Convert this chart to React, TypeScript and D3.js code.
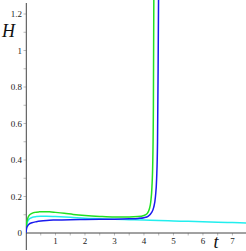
import React from 'react';
import * as d3 from 'd3';

// kurven ablesen aus dem bild (t, H)
const greenT = [0, 0.02, 0.05, 0.1, 0.2, 0.3, 0.45, 0.6, 0.8, 1.0, 1.3, 1.6, 2.0, 2.5, 3.0, 3.5, 3.8, 4.0, 4.1, 4.18, 4.23, 4.27, 4.3, 4.32, 4.335];
const greenH = [0, 0.05, 0.075, 0.095, 0.108, 0.113, 0.116, 0.117, 0.116, 0.113, 0.108, 0.102, 0.096, 0.091, 0.088, 0.088, 0.09, 0.096, 0.105, 0.13, 0.17, 0.25, 0.4, 0.7, 1.3];

const blueT = [0, 0.02, 0.05, 0.1, 0.2, 0.35, 0.5, 0.7, 1.0, 1.5, 2.0, 2.5, 3.0, 3.5, 3.8, 4.0, 4.15, 4.25, 4.33, 4.39, 4.43, 4.46, 4.48, 4.495];
const blueH = [0, 0.025, 0.038, 0.048, 0.056, 0.062, 0.066, 0.069, 0.071, 0.073, 0.074, 0.075, 0.076, 0.078, 0.08, 0.084, 0.093, 0.11, 0.14, 0.2, 0.3, 0.5, 0.9, 1.3];

const cyanT = [0, 0.02, 0.05, 0.1, 0.2, 0.35, 0.5, 0.7, 1.0, 1.5, 2.0, 2.5, 3.0, 3.5, 4.0, 4.5, 5.0, 5.5, 6.0, 6.5, 7.0, 7.5];
const cyanH = [0, 0.04, 0.06, 0.075, 0.085, 0.09, 0.092, 0.092, 0.09, 0.086, 0.081, 0.078, 0.075, 0.073, 0.071, 0.068, 0.066, 0.064, 0.062, 0.059, 0.057, 0.055];

const xTicks = [1, 2, 3, 4, 5, 6, 7];
const yTicks = [0, 0.2, 0.4, 0.6, 0.8, 1, 1.2];

const W = 246;
const H = 251;

const App = () => {
    const x = d3.scaleLinear().domain([0, 7.46]).range([26, 246]);
    const y = d3.scaleLinear().domain([0, 1.2]).range([233, 14]);

    const line = d3.line<[number, number]>()
        .x(d => x(d[0]))
        .y(d => y(d[1]))
        .curve(d3.curveMonotoneX);

    const series = [
        { t: cyanT, h: cyanH, color: '#22eeee' },
        { t: greenT, h: greenH, color: '#22e022' },
        { t: blueT, h: blueH, color: '#1a1aee' },
    ];

    const xMinor = d3.range(0.5, 7.46, 0.5);
    const yMinor = d3.range(0.1, 1.25, 0.1);

    return (
        <svg width={W} height={H} style={{ position: 'absolute', left: 0, top: 0 }}
            fontFamily="'Liberation Serif', 'DejaVu Serif', serif">
            <rect width={W} height={H} fill="#fff" />
            <defs>
                <clipPath id="plot">
                    <rect x={26} y={0} width={220} height={251} />
                </clipPath>
            </defs>

            {/* ticks */}
            {yMinor.map(v => (
                <line key={'ym' + v} x1={23.5} x2={26} y1={y(v)} y2={y(v)} stroke="#bbb" strokeWidth={1} />
            ))}
            {xMinor.map(v => (
                <line key={'xm' + v} x1={x(v)} x2={x(v)} y1={233} y2={235.5} stroke="#bbb" strokeWidth={1} />
            ))}

            {yTicks.map(v => (
                <text key={'yl' + v} x={22} y={y(v)} dy="0.35em" textAnchor="end" fontSize={9} fill="#222">{v}</text>
            ))}
            {xTicks.map(v => (
                <text key={'xl' + v} x={x(v)} y={243.5} textAnchor="middle" fontSize={9} fill="#222">{v}</text>
            ))}

            {/* axes */}
            <line x1={26} x2={246} y1={233} y2={233} stroke="#444" strokeWidth={1} />
            <line x1={26.3} x2={26.3} y1={3} y2={250} stroke="#444" strokeWidth={1} />

            <g clipPath="url(#plot)">
                {series.map((s, i) => (
                    <path key={i}
                        d={line(s.t.map((t, j) => [t, s.h[j]] as [number, number])) || ''}
                        fill="none" stroke={s.color} strokeWidth={1.5} />
                ))}
            </g>

            <text x={2} y={37} fontSize={18} fontStyle="italic" fill="#111">H</text>
            <text x={216} y={248} fontSize={18} fontStyle="italic" textAnchor="middle" fill="#111">t</text>
        </svg>
    );
};

export default App;
